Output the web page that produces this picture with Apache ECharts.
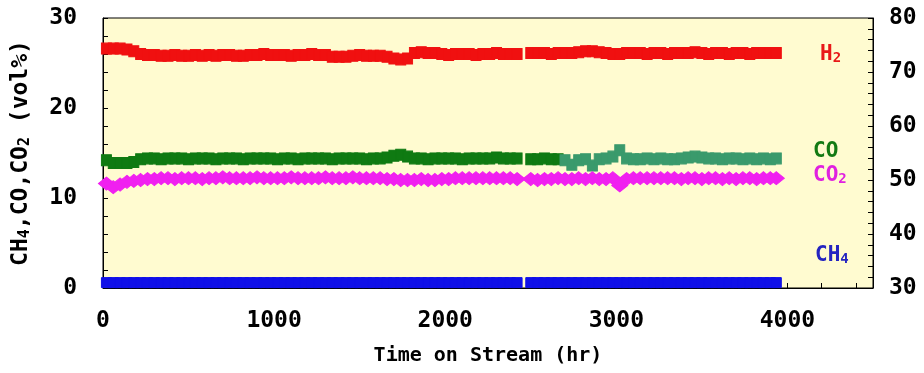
<!DOCTYPE html>
<html>
<head>
<meta charset="utf-8">
<script src="https://cdn.jsdelivr.net/npm/echarts@6/dist/echarts.min.js"></script>
<style>html,body{margin:0;padding:0;background:#fff;}#c{width:924px;height:373px;}</style>
</head>
<body>
<div id="c"></div>
<script>
// Time on stream (hr)
const timesA = [20,60,100,140,180,220,260,300,340,380,420,460,500,540,580,620,660,700,740,780,820,860,900,940,980,1020,1060,1100,1140,1180,1220,1260,1300,1340,1380,1420,1460,1500,1540,1580,1620,1660,1700,1740,1780,1820,1860,1900,1940,1980,2020,2060,2100,2140,2180,2220,2260,2300,2340,2380,2420];
const timesB = [2500,2540,2580,2620,2660,2700,2740,2780,2820,2860,2900,2940,2980,3020,3060,3100,3140,3180,3220,3260,3300,3340,3380,3420,3460,3500,3540,3580,3620,3660,3700,3740,3780,3820,3860,3900,3935];

// H2 (vol%)
const h2A = [26.6,26.6,26.6,26.5,26.3,26.0,25.9,25.9,25.8,25.8,25.9,25.8,25.8,25.9,25.8,25.9,25.8,25.9,25.9,25.8,25.8,25.9,25.9,26.0,25.9,25.9,25.9,25.8,25.9,25.9,26.0,25.9,25.9,25.7,25.7,25.7,25.8,25.9,25.8,25.8,25.8,25.7,25.5,25.4,25.5,26.1,26.2,26.1,26.1,26.0,25.9,26.0,26.0,26.0,25.9,26.0,26.0,26.1,26.0,26.0,26.0];
const h2B = [26.1,26.1,26.1,26.0,26.1,26.1,26.1,26.2,26.3,26.3,26.2,26.1,26.0,26.0,26.1,26.1,26.1,26.0,26.1,26.1,26.0,26.1,26.1,26.1,26.2,26.1,26.0,26.1,26.1,26.0,26.1,26.1,26.0,26.1,26.1,26.1,26.1];

// CO (vol%) – first period (dark green)
const coA = [14.2,13.9,13.9,13.9,14.0,14.3,14.4,14.4,14.3,14.4,14.4,14.4,14.3,14.4,14.4,14.4,14.3,14.4,14.4,14.4,14.3,14.4,14.4,14.4,14.4,14.3,14.4,14.4,14.3,14.4,14.4,14.4,14.4,14.3,14.4,14.4,14.4,14.4,14.3,14.4,14.4,14.5,14.7,14.8,14.6,14.4,14.4,14.3,14.4,14.4,14.4,14.4,14.3,14.4,14.4,14.4,14.4,14.5,14.4,14.4,14.4];
const coBTimes = [2500,2540,2580,2620,2660];
const coB = [14.3,14.3,14.4,14.3,14.3];
// CO (vol%) – later period (teal)
const coCTimes = [2700,2740,2780,2820,2860,2900,2940,2980,3020,3060,3100,3140,3180,3220,3260,3300,3340,3380,3420,3460,3500,3540,3580,3620,3660,3700,3740,3780,3820,3860,3900,3935];
const coC = [14.2,13.7,14.2,14.3,13.6,14.3,14.4,14.6,15.3,14.4,14.3,14.3,14.4,14.3,14.4,14.3,14.3,14.4,14.5,14.6,14.5,14.4,14.4,14.3,14.4,14.4,14.3,14.4,14.3,14.4,14.3,14.4];

// CO2 (vol%)
const co2A = [11.6,11.2,11.5,11.8,11.9,12.0,12.1,12.1,12.2,12.2,12.1,12.2,12.2,12.2,12.1,12.2,12.2,12.3,12.2,12.2,12.2,12.2,12.3,12.2,12.2,12.2,12.2,12.3,12.2,12.2,12.2,12.2,12.3,12.2,12.2,12.2,12.3,12.2,12.2,12.2,12.2,12.1,12.1,12.0,12.0,12.0,12.1,12.0,12.0,12.1,12.1,12.2,12.2,12.2,12.2,12.2,12.2,12.2,12.2,12.2,12.1];
const co2B = [12.1,12.0,12.1,12.1,12.2,12.1,12.1,12.2,12.1,12.2,12.1,12.1,12.2,11.4,12.1,12.2,12.2,12.2,12.2,12.2,12.2,12.2,12.1,12.2,12.2,12.1,12.2,12.2,12.1,12.2,12.1,12.2,12.2,12.1,12.2,12.2,12.2];

// CH4 (vol%)
const ch4A = [0.6,0.6,0.6,0.6,0.6,0.6,0.6,0.6,0.6,0.6,0.6,0.6,0.6,0.6,0.6,0.6,0.6,0.6,0.6,0.6,0.6,0.6,0.6,0.6,0.6,0.6,0.6,0.6,0.6,0.6,0.6,0.6,0.6,0.6,0.6,0.6,0.6,0.6,0.6,0.6,0.6,0.6,0.6,0.6,0.6,0.6,0.6,0.6,0.6,0.6,0.6,0.6,0.6,0.6,0.6,0.6,0.6,0.6,0.6,0.6,0.6];
const ch4B = [0.6,0.6,0.6,0.6,0.6,0.6,0.6,0.6,0.6,0.6,0.6,0.6,0.6,0.6,0.6,0.6,0.6,0.6,0.6,0.6,0.6,0.6,0.6,0.6,0.6,0.6,0.6,0.6,0.6,0.6,0.6,0.6,0.6,0.6,0.6,0.6,0.6];

// Axis tick labels
const xTickLabels = [0,1000,2000,3000,4000];
const yLeftTickLabels = [0,10,20,30];
const yRightTickLabels = [30,40,50,60,70,80];

function pairs(ts, vs){ return ts.map((t,i)=>[t, vs[i]]); }

const FONT = 'DejaVu Sans Mono';
const chart = echarts.init(document.getElementById('c'), null, {renderer:'canvas'});

function sc(name, data, color, symbol, size){
  return {
    type:'scatter', name, data, symbol, symbolSize:size, yAxisIndex:0,
    itemStyle:{color:color, borderColor:color, borderWidth:1, opacity:1},
    animation:false, silent:true
  };
}

const RED='#f01010', GREEN='#0f7a12', TEAL='#3a9a6c', MAG='#f020f0', BLUE='#1010e8';
function lbl(color){ return {a:{fontFamily:FONT,fontSize:21,fontWeight:'bold',fill:color}, s:{fontFamily:FONT,fontSize:14,fontWeight:'bold',fill:color,verticalAlign:'bottom',padding:[7,0,0,0]}}; }

chart.setOption({
  animation:false,
  backgroundColor:'#ffffff',
  grid:{left:103, right:51, top:18, bottom:85, show:true, backgroundColor:'#fffbd0', borderColor:'#000', borderWidth:1},
  xAxis:{
    type:'value', min:0, max:4500, interval:200,
    name:'Time on Stream (hr)', nameLocation:'middle', nameGap:58,
    nameTextStyle:{fontFamily:FONT, fontSize:20, fontWeight:'bold', color:'#000'},
    axisLine:{show:true, lineStyle:{color:'#000', width:1}},
    axisTick:{show:true, inside:true, length:5, lineStyle:{color:'#000'}},
    axisLabel:{margin:22, fontFamily:FONT, fontSize:23, fontWeight:'bold', color:'#000',
      formatter:v=> xTickLabels.includes(v) ? String(v) : ''},
    splitLine:{show:false}
  },
  yAxis:[{
    type:'value', min:0, max:30, interval:2, position:'left',
    name:'{a|CH}{s|4}{a|,CO,CO}{s|2}{a| (vol%)}', nameLocation:'middle', nameGap:70, nameRotate:90,
    nameTextStyle:{rich:{
      a:{fontFamily:FONT, fontSize:23, fontWeight:'bold', color:'#000'},
      s:{fontFamily:FONT, fontSize:15, fontWeight:'bold', color:'#000', verticalAlign:'bottom', padding:[8,0,0,0]}
    }},
    axisLine:{show:true, lineStyle:{color:'#000', width:1}},
    axisTick:{show:true, inside:true, length:5, lineStyle:{color:'#000'}},
    axisLabel:{margin:26, fontFamily:FONT, fontSize:23, fontWeight:'bold', color:'#000',
      formatter:v=> yLeftTickLabels.includes(v) ? String(v) : ''},
    splitLine:{show:false}
  },{
    type:'value', min:30, max:80, interval:2, position:'right',
    axisLine:{show:true, lineStyle:{color:'#000', width:1}},
    axisTick:{show:true, inside:true, length:5, lineStyle:{color:'#000'}},
    axisLabel:{margin:16, fontFamily:FONT, fontSize:23, fontWeight:'bold', color:'#000',
      formatter:v=> yRightTickLabels.includes(v) ? String(v) : ''},
    splitLine:{show:false}
  }],
  graphic:[
    {type:'text', left:820, top:44, style:{text:'{a|H}{s|2}', rich:lbl('#e81818')}},
    {type:'text', left:813, top:141, style:{text:'CO', fontFamily:FONT, fontSize:21, fontWeight:'bold', fill:'#137a13'}},
    {type:'text', left:813, top:165, style:{text:'{a|CO}{s|2}', rich:lbl('#e020e0')}},
    {type:'text', left:815, top:245, style:{text:'{a|CH}{s|4}', rich:lbl('#2424c0')}}
  ],
  series:[
    sc('CH4 A', pairs(timesA, ch4A), BLUE, 'rect', [10,10]),
    sc('CH4 B', pairs(timesB, ch4B), BLUE, 'rect', [10,10]),
    sc('CO A', pairs(timesA, coA), GREEN, 'rect', [10,11]),
    sc('CO B', pairs(coBTimes, coB), GREEN, 'rect', [10,11]),
    sc('CO C', pairs(coCTimes, coC), TEAL, 'rect', [10,11]),
    sc('CO2 A', pairs(timesA, co2A), MAG, 'diamond', [16,13]),
    sc('CO2 B', pairs(timesB, co2B), MAG, 'diamond', [16,13]),
    sc('H2 A', pairs(timesA, h2A), RED, 'rect', [10,11]),
    sc('H2 B', pairs(timesB, h2B), RED, 'rect', [10,11])
  ]
});
</script>
</body>
</html>
